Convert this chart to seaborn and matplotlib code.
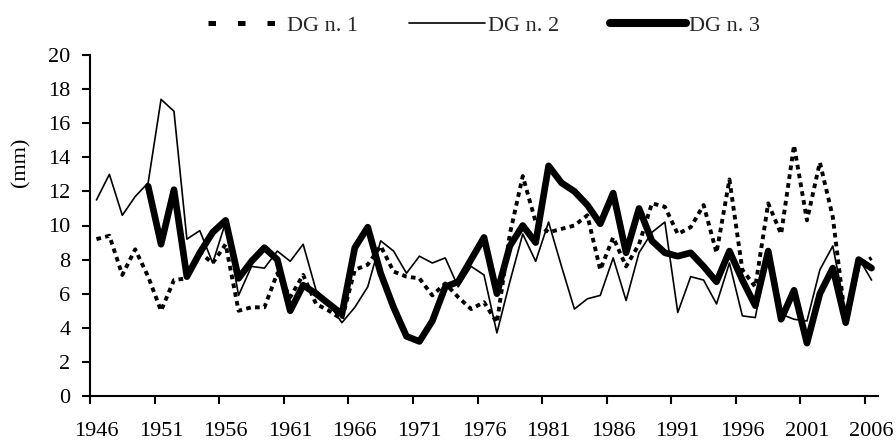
import numpy as np
import pandas as pd
import matplotlib
matplotlib.use("Agg")
import matplotlib.pyplot as plt
from matplotlib.lines import Line2D
import seaborn as sns

years = list(range(1946, 2007))

dg1 = [9.2, 9.4, 7.1, 8.6, 7.0, 5.0, 6.8, 6.9, 8.4, 7.8,
       8.9, 5.0, 5.2, 5.2, 7.2, 5.8, 7.1, 5.4, 5.0, 4.5,
       7.4, 7.7, 8.8, 7.3, 7.0, 6.9, 5.9, 6.6, 5.8, 5.1,
       5.5, 4.3, 9.5, 12.9, 10.2, 9.6, 9.8, 10.0, 10.6, 7.4,
       9.3, 7.6, 8.9, 11.3, 11.1, 9.5, 9.9, 11.2, 8.4, 12.7,
       7.4, 6.4, 11.3, 9.5, 14.7, 10.3, 13.7, 10.5, 4.3, 7.6,
       8.1]

dg2 = [11.5, 13.0, 10.6, 11.7, 12.5, 17.4, 16.7, 9.2, 9.7, 7.8,
       10.2, 5.9, 7.6, 7.5, 8.5, 7.9, 8.9, 6.2, 5.4, 4.3,
       5.2, 6.4, 9.1, 8.5, 7.2, 8.2, 7.8, 8.1, 6.4, 7.6,
       7.1, 3.7, 6.7, 9.5, 7.9, 10.2, 7.6, 5.1, 5.7, 5.9,
       8.1, 5.6, 8.4, 9.6, 10.2, 4.9, 7.0, 6.8, 5.4, 7.8,
       4.7, 4.6, 8.5, 4.8, 4.5, 4.4, 7.4, 8.8, 4.9, 8.1,
       6.8]

dg3 = [np.nan, np.nan, np.nan, np.nan, 12.3, 8.9, 12.1, 7.0, 8.4, 9.6,
       10.3, 6.9, 7.9, 8.7, 8.0, 5.0, 6.5, 6.0, 5.4, 4.8,
       8.7, 9.9, 7.2, 5.2, 3.5, 3.2, 4.4, 6.4, 6.7, 8.0,
       9.3, 6.0, 8.8, 10.0, 9.0, 13.5, 12.5, 12.0, 11.2, 10.1,
       11.9, 8.4, 11.0, 9.1, 8.4, 8.2, 8.4, 7.6, 6.7, 8.5,
       6.8, 5.3, 8.5, 4.5, 6.2, 3.1, 6.0, 7.5, 4.3, 8.0,
       7.5]

series_names = ["DG n. 1", "DG n. 2", "DG n. 3"]
tick_years = list(range(1946, 2007, 5))
y_ticks = list(range(0, 21, 2))

sns.set_theme(style="white")
plt.rcParams["font.family"] = ["Liberation Serif", "DejaVu Serif"]

fig = plt.figure(figsize=(8.96, 4.41), dpi=100)
ax = fig.add_axes([90/896, 45/441, (878-90)/896, (396-55)/441])

df = pd.DataFrame({"year": years, series_names[0]: dg1,
                   series_names[1]: dg2, series_names[2]: dg3})

sns.lineplot(data=df, x="year", y=series_names[0], ax=ax, color="black",
             linewidth=2.8, label=series_names[0])
l1 = ax.lines[-1]
l1.set_dashes((1.2, 1.1))
l1.set_dash_capstyle("butt")

sns.lineplot(data=df, x="year", y=series_names[1], ax=ax, color="black",
             linewidth=1.2, label=series_names[1])
sns.lineplot(data=df, x="year", y=series_names[2], ax=ax, color="black",
             linewidth=4.8, label=series_names[2])
l3 = ax.lines[-1]
l3.set_solid_joinstyle("round")
l3.set_solid_capstyle("round")

ax.set_xlim(1945.5, 2006.5)
ax.set_ylim(0, 20)
ax.set_xlabel("")
ax.set_ylabel("")

ax.set_xticks(tick_years)
ax.set_xticklabels([str(y) for y in tick_years])
ax.set_xticks([y - 0.5 for y in tick_years], minor=True)
ax.tick_params(axis="x", which="major", length=0, pad=19, labelsize=16,
               colors="black")
ax.tick_params(axis="x", which="minor", length=6, width=1.5, bottom=True,
               direction="out", color="black")
ax.set_yticks(y_ticks)
ax.tick_params(axis="y", which="major", length=6, width=1.5, left=True,
               direction="out", pad=8, labelsize=16, colors="black")

for s in ["top", "right"]:
    ax.spines[s].set_visible(False)
for s in ["left", "bottom"]:
    ax.spines[s].set_color("black")
    ax.spines[s].set_linewidth(1.5)
ax.grid(False)

handles, labels = ax.get_legend_handles_labels()
ax.get_legend().remove()
h1 = Line2D([], [], color="black", linewidth=3.6, dashes=(1.5, 4.4),
            dash_capstyle="butt")
h3 = Line2D([], [], color="black", linewidth=5.8, solid_capstyle="round")
handles = [h1, handles[1], h3]
fig.legend(handles, labels, loc="center", bbox_to_anchor=(484/896, 1 - 26/441),
           ncol=3, frameon=False, fontsize=16, handlelength=3.4,
           handletextpad=0.15, columnspacing=2.3)

fig.text(21/896, 1 - 162/441, "(mm)", rotation=90, ha="center", va="center",
         fontsize=16, color="black")

fig.savefig("out.png", dpi=100, facecolor="white")
